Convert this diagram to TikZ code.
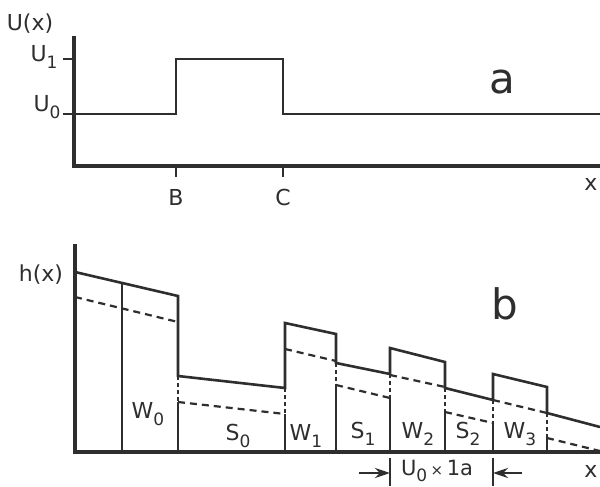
\documentclass[tikz,border=0pt]{standalone}
\usepackage{fontspec}
\setmainfont{DejaVu Sans}
\usetikzlibrary{arrows.meta}
\definecolor{ink}{HTML}{2E2E2E}
\tikzset{
  axis/.style={draw=ink, line width=3.2pt},
  curve/.style={draw=ink, line width=2.6pt, line join=miter},
  dashline/.style={draw=ink, line width=2.2pt, dash pattern=on 7pt off 5pt},
  vdash/.style={draw=ink, line width=2pt, dash pattern=on 4pt off 3pt},
  divider/.style={draw=ink, line width=2pt},
  tickline/.style={draw=ink, line width=2.4pt},
  lbl/.style={inner sep=0pt, text=ink, font=\fontsize{22}{26}\selectfont},
  big/.style={inner sep=0pt, text=ink, font=\fontsize{42}{46}\selectfont},
  dimarrow/.style={draw=ink, line width=2.6pt, -{Stealth[length=15pt,width=10pt]}}
}
\newcommand\subx[1]{\raisebox{-0.3em}{\fontsize{17}{17}\selectfont #1}}
\begin{document}
\begin{tikzpicture}[x=1pt,y=-1pt]
\useasboundingbox[fill=white] (0,0) rectangle (600,487);
% ---------- panel a ----------
\coordinate (aO) at (74,166);
\coordinate (aTop) at (74,36);
\coordinate (aEnd) at (600,166);
\draw[axis] (aTop) -- (aO) -- (aEnd);
\draw[tickline] (63,59) -- (74,59);
\draw[tickline] (63,114) -- (74,114);
\draw[curve] (74,114) -- (176,114) -- (176,59) -- (283,59) -- (283,114) -- (600,114);
\draw[tickline] (176,166) -- (176,177);
\draw[tickline] (283,166) -- (283,177);
\node[lbl] (Ux) at (30,24) {U(x)};
\node[lbl] (U1) at (44,57) {U\subx{1}};
\node[lbl] (U0) at (47,107) {U\subx{0}};
\node[lbl] (B) at (176,197) {B};
\node[lbl] (C) at (283,197) {C};
\node[big] (la) at (502,82) {a};
\node[lbl] (xa) at (591,184) {x};
% ---------- panel b ----------
\draw[axis] (75,244) -- (75,452) -- (600,452);
\node[lbl] (hx) at (41,275) {h(x)};
\draw[curve] (75,272) -- (178,296) -- (178,376) -- (285,388) -- (285,323) -- (336,334)
  -- (336,363) -- (390,374) -- (390,348) -- (445,362) -- (445,388) -- (493,400)
  -- (493,374) -- (547,387) -- (547,413) -- (600,427);
\draw[divider] (122,283) -- (122,452);
% dashed lines
\draw[dashline] (75,297) -- (178,322);
\draw[dashline] (178,402) -- (285,414);
\draw[dashline] (285,349) -- (336,361);
\draw[dashline] (336,385) -- (390,398);
\draw[dashline] (390,375) -- (445,387);
\draw[dashline] (445,412) -- (493,423);
\draw[dashline] (493,400) -- (547,413);
\draw[dashline] (547,438) -- (600,451);
% verticals
\foreach \x/\a/\b in {178/376/402, 285/388/414, 336/363/385, 390/374/398, 445/388/412, 493/400/423, 547/413/438}{
  \draw[vdash] (\x,\a) -- (\x,\b);
  \draw[divider] (\x,\b) -- (\x,452);
}
\node[lbl] (W0) at (148,414) {W\subx{0}};
\node[lbl] (S0) at (238,436) {S\subx{0}};
\node[lbl] (W1) at (306,436) {W\subx{1}};
\node[lbl] (S1) at (363,434) {S\subx{1}};
\node[lbl] (W2) at (418,434) {W\subx{2}};
\node[lbl] (S2) at (468,434) {S\subx{2}};
\node[lbl] (W3) at (520,434) {W\subx{3}};
\node[big] (lb) at (505,304) {b};
% dimension
\coordinate (dL) at (390,473);
\coordinate (dR) at (493,473);
\coordinate (dLs) at (359,473);
\coordinate (dRs) at (522,473);
\draw[tickline] (390,458) -- (390,486);
\draw[tickline] (493,458) -- (493,486);
\draw[dimarrow] (dLs) -- (dL);
\draw[dimarrow] (dRs) -- (dR);
\node[lbl, font=\fontsize{21}{24}\selectfont] (dim) at (437,471) {U\subx{0}\,{\fontsize{15}{15}\selectfont ×}\,1a};
\node[lbl] (xb) at (591,471) {x};
\end{tikzpicture}
\end{document}
